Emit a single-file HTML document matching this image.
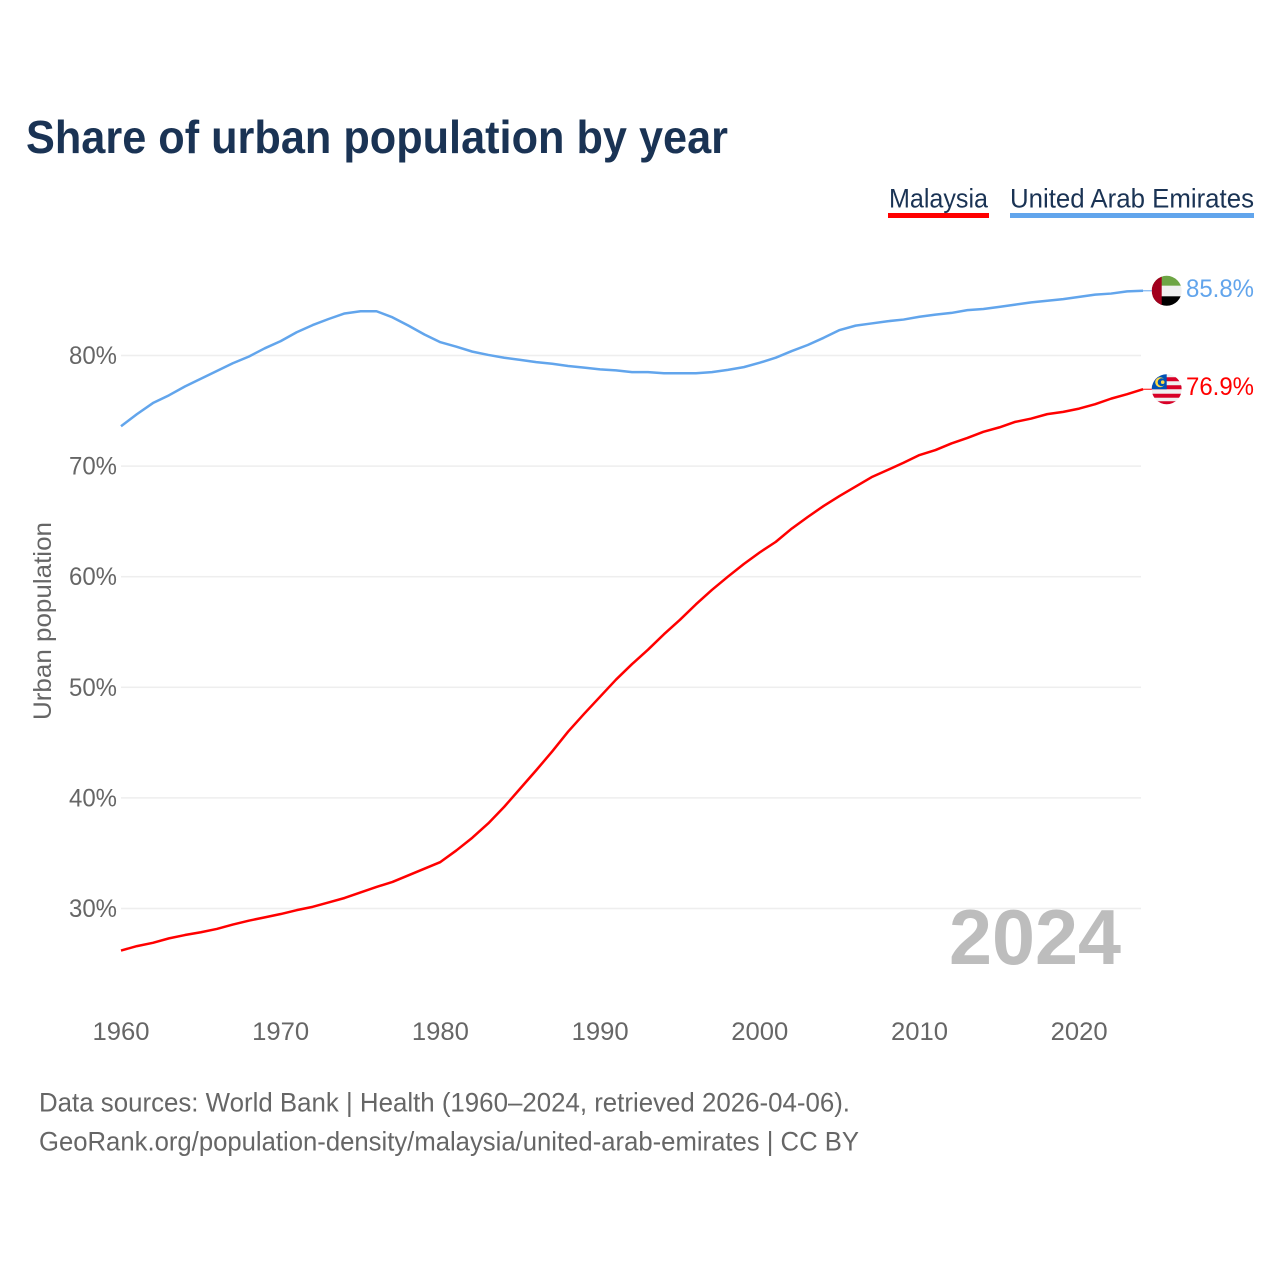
<!DOCTYPE html>
<html lang="en">
<head>
<meta charset="utf-8">
<title>Share of urban population by year</title>
<style>
html,body{margin:0;padding:0;background:#fff;width:1280px;height:1280px;overflow:hidden}
svg{display:block}
text{font-family:"Liberation Sans",sans-serif}
</style>
</head>
<body>
<svg id="chart" xmlns="http://www.w3.org/2000/svg" width="1280" height="1280" viewBox="0 0 1280 1280">
  <rect width="1280" height="1280" fill="#ffffff"/>
  <defs>
    <clipPath id="clip-uae"><circle id="clip-uae-circle" r="15"/></clipPath>
    <clipPath id="clip-mys"><circle id="clip-mys-circle" r="15"/></clipPath>
  </defs>
  <text x="26" y="153" font-size="46" font-weight="700" fill="#1a3354" textLength="702" lengthAdjust="spacingAndGlyphs">Share of urban population by year</text>

  <g>
    <g>
      <text x="889" y="207.5" font-size="27" fill="#1a3354" textLength="99" lengthAdjust="spacingAndGlyphs">Malaysia</text>
      <rect x="888" y="213" width="101" height="5" fill="#ff0000"/>
    </g>
    <g>
      <text x="1010" y="207.5" font-size="27" fill="#1a3354" textLength="244" lengthAdjust="spacingAndGlyphs">United Arab Emirates</text>
      <rect x="1010" y="213" width="244" height="5" fill="#62a5ec"/>
    </g>
  </g>

  <text transform="translate(51,621) rotate(-90)" text-anchor="middle" font-size="25" fill="#666666" textLength="198" lengthAdjust="spacingAndGlyphs">Urban population</text>

  <g id="grid"></g>
  <g id="yticks"></g>
  <g id="xticks"></g>

  <text x="949" y="964" font-size="78" font-weight="700" fill="#bdbdbd" textLength="172" lengthAdjust="spacingAndGlyphs">2024</text>

  <g id="series"></g>

  <g id="flag-uae" clip-path="url(#clip-uae)">
    <rect x="-15" y="-16" width="30" height="11" fill="#6da544"/>
    <rect x="-15" y="-5" width="30" height="10.5" fill="#f0f0f0"/>
    <rect x="-15" y="5.5" width="30" height="11" fill="#000000"/>
    <rect x="-15" y="-16" width="10" height="32" fill="#a2001d"/>
  </g>
  <g id="flag-mys" clip-path="url(#clip-mys)">
    <rect x="-15" y="-16" width="30" height="32" fill="#f0f0f0"/>
    <rect x="-15" y="-12" width="30" height="4" fill="#d80027"/>
    <rect x="-15" y="-4" width="30" height="4" fill="#d80027"/>
    <rect x="-15" y="4.5" width="30" height="4" fill="#d80027"/>
    <rect x="-15" y="12" width="30" height="4" fill="#d80027"/>
    <rect x="-15" y="-16" width="15" height="16" fill="#0052b4"/>
    <circle cx="-6.5" cy="-7" r="5" fill="#ffda44"/>
    <circle cx="-5" cy="-7" r="4" fill="#0052b4"/>
    <circle cx="-4" cy="-7" r="1.8" fill="#ffda44"/>
  </g>

  <text id="label-uae" x="1186" font-size="25" fill="#62a5ec" textLength="68" lengthAdjust="spacingAndGlyphs"></text>
  <text id="label-mys" x="1186" font-size="25" fill="#ff0000" textLength="68" lengthAdjust="spacingAndGlyphs"></text>

  <text x="39" y="1111.5" font-size="27" fill="#666666" textLength="811" lengthAdjust="spacingAndGlyphs">Data sources: World Bank | Health (1960–2024, retrieved 2026-04-06).</text>
  <text x="39" y="1150.5" font-size="27" fill="#666666" textLength="820" lengthAdjust="spacingAndGlyphs">GeoRank.org/population-density/malaysia/united-arab-emirates | CC BY</text>
</svg>
<script>
const years = [1960,1961,1962,1963,1964,1965,1966,1967,1968,1969,1970,1971,1972,1973,1974,1975,1976,1977,1978,1979,1980,1981,1982,1983,1984,1985,1986,1987,1988,1989,1990,1991,1992,1993,1994,1995,1996,1997,1998,1999,2000,2001,2002,2003,2004,2005,2006,2007,2008,2009,2010,2011,2012,2013,2014,2015,2016,2017,2018,2019,2020,2021,2022,2023,2024];
const malaysiaValues = [26.2,26.6,26.9,27.3,27.6,27.85,28.15,28.55,28.9,29.2,29.5,29.85,30.15,30.55,30.95,31.45,31.95,32.4,33.0,33.6,34.2,35.25,36.4,37.7,39.2,40.85,42.5,44.2,46.0,47.6,49.15,50.7,52.1,53.4,54.8,56.1,57.5,58.8,60.0,61.15,62.2,63.15,64.35,65.4,66.4,67.3,68.15,69.0,69.65,70.3,71.0,71.45,72.05,72.55,73.1,73.5,74.0,74.3,74.7,74.9,75.2,75.6,76.1,76.5,76.95];
const uaeValues = [73.6,74.7,75.7,76.4,77.2,77.9,78.6,79.3,79.9,80.65,81.3,82.1,82.75,83.3,83.8,84.0,84.0,83.45,82.7,81.9,81.2,80.8,80.35,80.05,79.8,79.6,79.4,79.25,79.05,78.9,78.75,78.65,78.5,78.5,78.4,78.4,78.4,78.5,78.7,78.95,79.35,79.8,80.4,80.95,81.6,82.3,82.7,82.9,83.1,83.25,83.5,83.7,83.85,84.1,84.2,84.4,84.6,84.8,84.95,85.1,85.3,85.5,85.6,85.8,85.85];
const yTickValues = [30,40,50,60,70,80];
const xTickValues = [1960,1970,1980,1990,2000,2010,2020];
const endLabels = ["85.8%","76.9%"];

const NS = "http://www.w3.org/2000/svg";
const xScale = function (year) { return 121 + (year - 1960) * 15.97; };
const yScale = function (value) { return 355.5 + (80 - value) * 11.06; };

function make(tag, parentId) {
  const el = document.createElementNS(NS, tag);
  document.getElementById(parentId).appendChild(el);
  return el;
}

yTickValues.forEach(function (v) {
  const line = make("rect", "grid");
  
  
  line.setAttribute("x", 121);
  line.setAttribute("y", yScale(v) - 0.75);
  line.setAttribute("width", 1020);
  line.setAttribute("height", 1.5);
  line.setAttribute("fill", "#eeeeee");

  const label = make("text", "yticks");
  
  
  label.setAttribute("x", 69);
  label.setAttribute("y", yScale(v) + 8.5);
  label.setAttribute("font-size", 25);
  label.setAttribute("fill", "#666666");
  label.setAttribute("textLength", 48);
  label.setAttribute("lengthAdjust", "spacingAndGlyphs");
  label.textContent = v + "%";
});

xTickValues.forEach(function (t) {
  const label = make("text", "xticks");
  
  
  label.setAttribute("x", xScale(t) - 28.5);
  label.setAttribute("y", 1040);
  label.setAttribute("font-size", 25);
  label.setAttribute("fill", "#666666");
  label.setAttribute("textLength", 57);
  label.setAttribute("lengthAdjust", "spacingAndGlyphs");
  label.textContent = t;
});

function pathFor(values) {
  return values.map(function (v, i) {
    return (i ? "L" : "M") + xScale(years[i]).toFixed(2) + " " + yScale(v).toFixed(2);
  }).join(" ");
}

const uaeLine = make("path", "series");


uaeLine.setAttribute("d", pathFor(uaeValues));
uaeLine.setAttribute("fill", "none");
uaeLine.setAttribute("stroke", "#62a5ec");
uaeLine.setAttribute("stroke-width", 2.5);
uaeLine.setAttribute("stroke-linejoin", "round");

const mysLine = make("path", "series");


mysLine.setAttribute("d", pathFor(malaysiaValues));
mysLine.setAttribute("fill", "none");
mysLine.setAttribute("stroke", "#ff0000");
mysLine.setAttribute("stroke-width", 2.5);
mysLine.setAttribute("stroke-linejoin", "round");

const lastIndex = years.length - 1;
const uaeEndY = yScale(uaeValues[lastIndex]);
const mysEndY = yScale(malaysiaValues[lastIndex]);
const endX = xScale(years[lastIndex]);

const uaeTail = make("line", "series");


uaeTail.setAttribute("x1", endX);
uaeTail.setAttribute("x2", endX + 9);
uaeTail.setAttribute("y1", uaeEndY);
uaeTail.setAttribute("y2", uaeEndY);
uaeTail.setAttribute("stroke", "#62a5ec");
uaeTail.setAttribute("stroke-width", 1);

const mysTail = make("line", "series");


mysTail.setAttribute("x1", endX);
mysTail.setAttribute("x2", endX + 9);
mysTail.setAttribute("y1", mysEndY);
mysTail.setAttribute("y2", mysEndY);
mysTail.setAttribute("stroke", "#ff0000");
mysTail.setAttribute("stroke-width", 1);

function placeFlag(groupId, cy) {
  document.getElementById(groupId).setAttribute("transform", "translate(1166.7," + cy + ")");
}
placeFlag("flag-uae", uaeEndY);
placeFlag("flag-mys", mysEndY);

const uaeLabel = document.getElementById("label-uae");
uaeLabel.setAttribute("y", uaeEndY + 6);
uaeLabel.textContent = endLabels[0];
const mysLabel = document.getElementById("label-mys");
mysLabel.setAttribute("y", mysEndY + 6);
mysLabel.textContent = endLabels[1];
</script>
</body>
</html>
